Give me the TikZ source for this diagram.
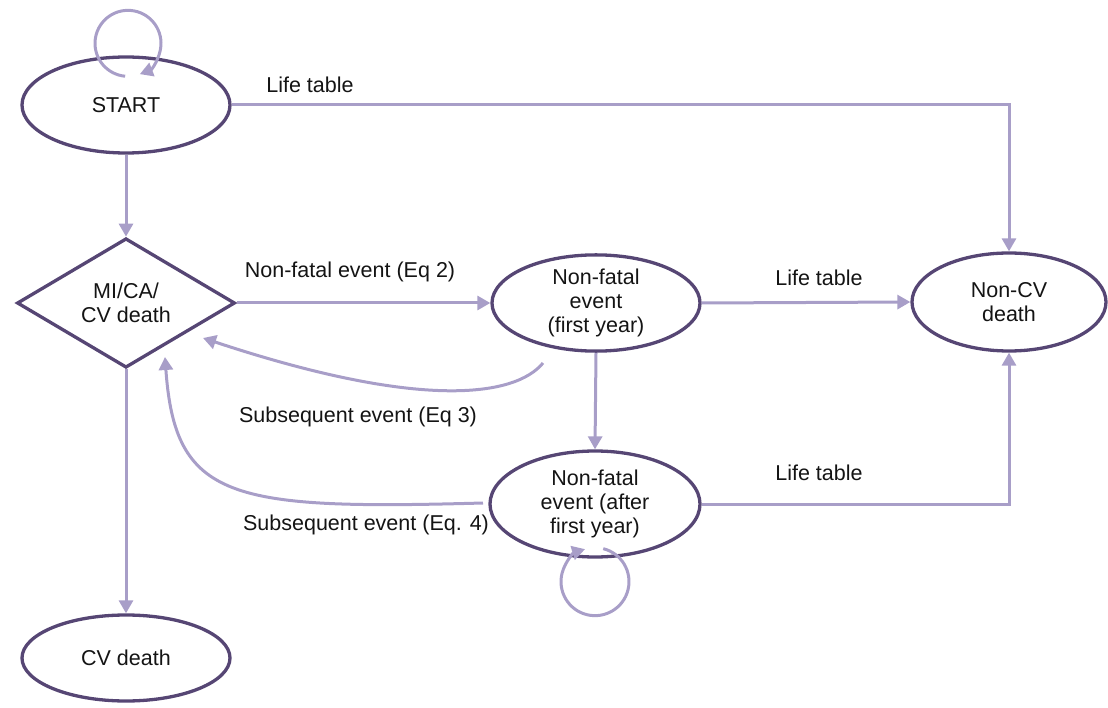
\documentclass[tikz,border=0pt]{standalone}
\usepackage{fontspec}
\setmainfont{Liberation Sans}
\usetikzlibrary{shapes.geometric,arrows.meta}
\definecolor{edgepurple}{RGB}{86,70,116}
\definecolor{flowpurple}{RGB}{168,158,200}
\definecolor{labelgray}{RGB}{20,20,20}
\newcommand\statefont{\fontsize{21.5}{24}\selectfont}
\tikzset{
  state/.style={ellipse, draw=edgepurple, line width=3.3pt, inner sep=0pt,
    align=center, text=labelgray, font=\statefont},
  choice/.style={diamond, draw=edgepurple, line width=3.3pt, inner sep=0pt,
    align=center, text=labelgray, font=\statefont},
  flow/.style={draw=flowpurple, line width=3pt,
    -{Triangle[length=13pt,width=14pt]}},
  lbl/.style={anchor=base, text=labelgray, font=\statefont, inner sep=0pt}
}
\begin{document}
\begin{tikzpicture}[x=1pt,y=-1pt]
\useasboundingbox (0,0) rectangle (1108,708);

% states
\node[state, minimum width=208pt, minimum height=96pt] (start) at (126,105) {START};
\node[choice, minimum width=218pt, minimum height=110pt] (dia) at (126,303) {MI/CA/\\CV death};
\node[state, minimum width=208pt, minimum height=94pt] (nf1) at (596,303) {Non-fatal\\event\\(first year)};
\node[state, minimum width=210pt, minimum height=106pt] (nf2) at (595,504) {Non-fatal\\event (after\\first year)};
\node[state, minimum width=194pt, minimum height=98pt] (noncv) at (1009,302) {Non-CV\\death};
\node[state, minimum width=208pt, minimum height=86pt] (cvd) at (126,658) {CV death};

% straight transitions
\draw[flow] (start.east) -| (noncv.north);
\draw[flow] (start.south) -- (dia.north);
\draw[flow] (dia.east) -- (nf1.west);
\draw[flow] (nf1.east) -- (noncv.west);
\draw[flow] (nf1.south) -- (nf2.north);
\draw[flow] (nf2.east) -| (noncv.south);
\draw[flow] (dia.south) -- (cvd.north);

% curved returns to the event diamond
\coordinate (e3a) at (543,363);
\coordinate (e3b) at (203,338);
\draw[flow] (e3a) .. controls (515,397) and (420,410) .. (e3b);
\coordinate (e4a) at (483,503);
\coordinate (e4b) at (165,357);
\draw[flow] (e4a) .. controls (230,510) and (175,500) .. (e4b);

% self loops
\draw[flow] ([shift={(2,-12)}]start.north) ++(95:33) arc[start angle=95, end angle=429, radius=33];
\draw[flow] ([shift={(0,23)}]nf2.south) ++(-76:34) arc[start angle=-76, end angle=253, radius=34];

% transition labels
\node[lbl] (lt1) at (310,93) {Life table};
\node[lbl] (ev2) at (350,278) {Non-fatal event (Eq 2)};
\node[lbl] (lt2) at (819,286) {Life table};
\node[lbl] (ev3) at (358,422) {Subsequent event (Eq 3)};
\node[lbl] (lt3) at (819,480) {Life table};
\node[lbl] (ev4) at (366,530) {Subsequent event (Eq. 4)};
\end{tikzpicture}
\end{document}
